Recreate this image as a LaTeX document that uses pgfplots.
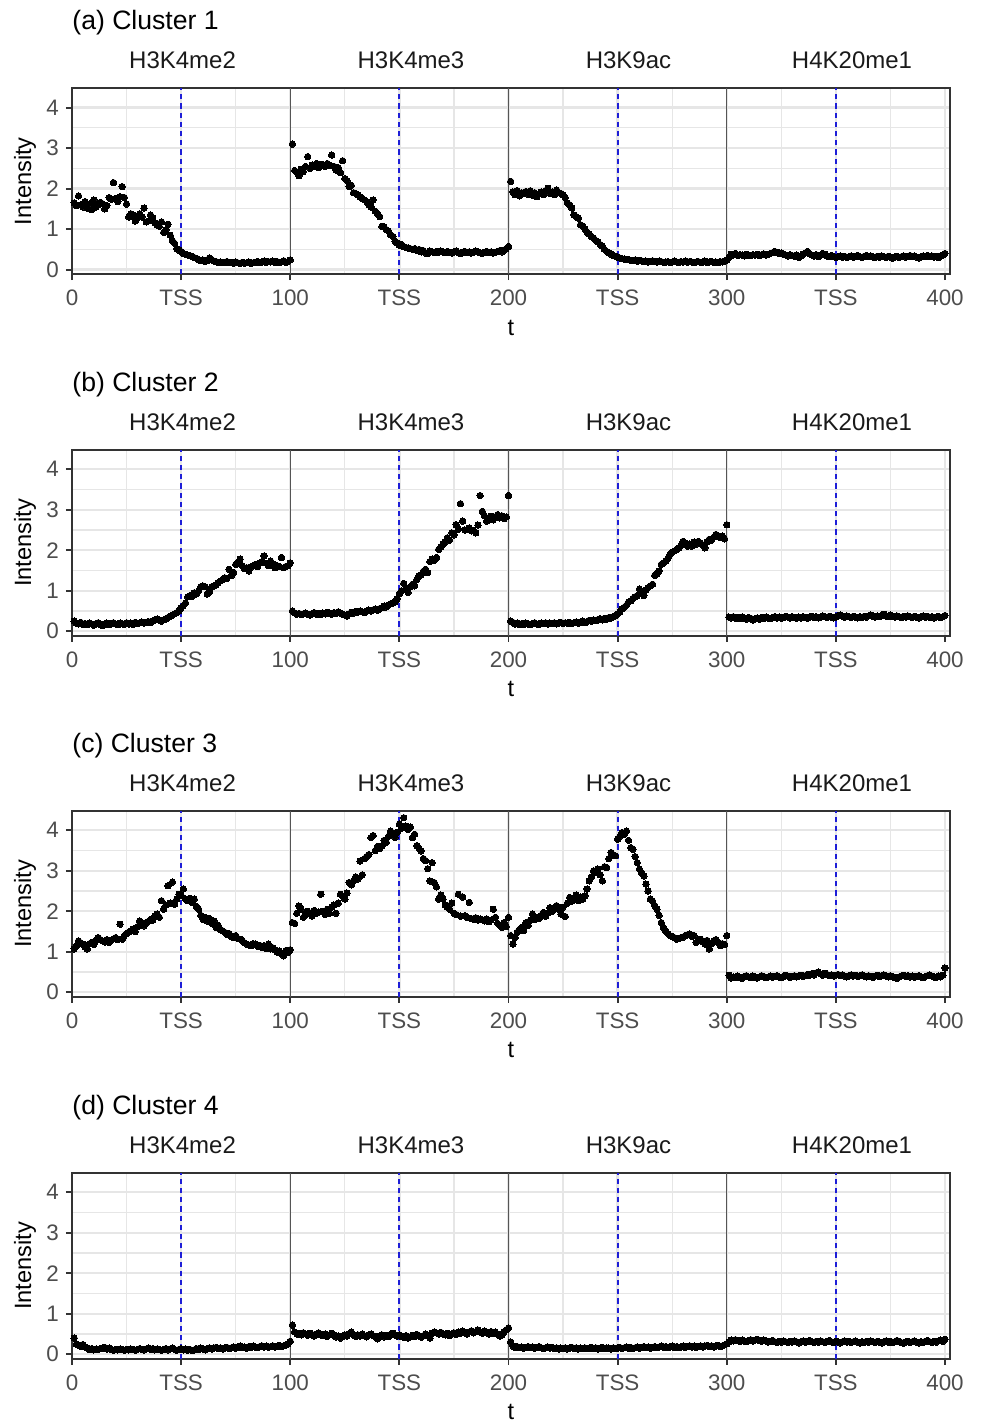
\documentclass[border=0pt]{standalone}
\usepackage{fontspec}
\setmainfont{Liberation Sans}
\usepackage{pgfplots}
\pgfplotsset{compat=1.18}
\definecolor{gridc}{HTML}{E6E6E6}
\definecolor{tickc}{HTML}{4D4D4D}
\definecolor{borderc}{HTML}{333333}
\definecolor{sepc}{HTML}{555555}
\definecolor{stripc}{HTML}{1A1A1A}
\definecolor{tssc}{RGB}{30,30,215}

\pgfplotsset{
 panel/.style={
  scale only axis, width=439pt, height=92.85pt,
  xmin=0, xmax=402.3, ymin=-0.11, ymax=4.475,
  clip=false,
  axis line style={borderc, line width=1pt},
  xtick={0,50,100,150,200,250,300,350,400},
  xticklabels={0,TSS,100,TSS,200,TSS,300,TSS,400},
  minor xtick={25,75,125,175,225,275,325,375},
  ytick={0,1,2,3,4}, yticklabels={0,1,2,3,4},
  minor ytick={0.5,1.5,2.5,3.5},
  grid=both,
  major grid style={gridc, line width=1.2pt},
  minor grid style={gridc, line width=0.6pt},
  tick align=outside, tick pos=left,
  major tick length=3pt, minor tick length=0pt,
  major tick style={borderc, line width=0.9pt},
  ticklabel style={font=\fontsize{11.2}{13}\selectfont, text=tickc},
  xticklabel style={yshift=-1.5pt},
  xlabel={t}, ylabel={Intensity},
  every axis x label/.style={at={(axis description cs:0.5,0)}, anchor=base, yshift=-30.5pt, font=\fontsize{11.8}{14}\selectfont},
  every axis y label/.style={at={(axis description cs:-0.0535,0.5)}, rotate=90, anchor=center, font=\fontsize{11.8}{14}\selectfont},
  every axis title shift=0pt,
  title style={at={(axis description cs:0,1)}, anchor=base west, inner sep=0pt, yshift=29.2pt, font=\fontsize{13.3}{16}\selectfont},
  extra description/.code={
   \foreach \p/\n in {0.1259/H3K4me2, 0.3861/H3K4me3, 0.6338/H3K9ac, 0.8884/H4K20me1}
     {\node[anchor=base, inner sep=0pt, font=\fontsize{12}{14}\selectfont, text=stripc, yshift=10pt] at (axis description cs:\p,1) {\n};}
  },
 },
 pts/.style={only marks, mark=*, mark size=1.6pt, color=black, mark options={draw=black, fill=black, line width=0pt}},
 sep/.style={color=sepc, line width=0.7pt, forget plot},
 tss/.style={color=tssc, solid, line width=1pt, dash pattern=on 2.6pt off 2pt, forget plot},
}
\newcommand{\facetlines}{%
 \addplot[sep] coordinates {(100,-0.11) (100,4.475)};
 \addplot[sep] coordinates {(200,-0.11) (200,4.475)};
 \addplot[sep] coordinates {(300,-0.11) (300,4.475)};
 \addplot[tss] coordinates {(50,-0.11) (50,4.475)};
 \addplot[tss] coordinates {(150,-0.11) (150,4.475)};
 \addplot[tss] coordinates {(250,-0.11) (250,4.475)};
 \addplot[tss] coordinates {(350,-0.11) (350,4.475)};
}

\begin{document}
\begin{tikzpicture}
\path[use as bounding box] (0,0) rectangle (490pt,-711.5pt);

% ---------------- (a) Cluster 1
\begin{axis}[panel, at={(36pt,-44.2pt)}, anchor=north west, title={(a) Cluster 1}]
\facetlines
\addplot[pts] coordinates {(1,1.65)(2,1.58)(3,1.82)(4,1.60)(5,1.55)(6,1.68)(7,1.52)(8,1.62)(9,1.48)(10,1.72)(11,1.55)(12,1.60)(13,1.66)(14,1.63)(15,1.50)(16,1.58)(17,1.78)(18,1.74)(19,2.15)(20,1.76)(21,1.68)(22,1.80)(23,2.05)(24,1.78)(25,1.62)(26,1.30)(27,1.38)(28,1.35)(29,1.20)(30,1.28)(31,1.38)(32,1.30)(33,1.52)(34,1.18)(35,1.20)(36,1.35)(37,1.27)(38,1.15)(39,1.10)(40,1.07)(41,1.18)(42,0.92)(43,0.98)(44,1.12)(45,0.85)(46,0.72)(47,0.65)(48,0.52)(49,0.48)(50,0.45)(51,0.40)(52,0.38)(53,0.36)(54,0.35)(55,0.33)(56,0.30)(57,0.28)(58,0.25)(59,0.22)(60,0.24)(61,0.20)(62,0.22)(63,0.29)(64,0.25)(65,0.21)(66,0.20)(67,0.18)(68,0.19)(69,0.17)(70,0.18)(71,0.20)(72,0.17)(73,0.18)(74,0.16)(75,0.19)(76,0.17)(77,0.15)(78,0.18)(79,0.16)(80,0.17)(81,0.19)(82,0.15)(83,0.17)(84,0.18)(85,0.20)(86,0.17)(87,0.19)(88,0.21)(89,0.18)(90,0.20)(91,0.19)(92,0.21)(93,0.18)(94,0.20)(95,0.17)(96,0.19)(97,0.22)(98,0.18)(99,0.20)(100,0.24)};
\addplot[pts] coordinates {(101,3.10)(102,2.45)(103,2.40)(104,2.32)(105,2.48)(106,2.42)(107,2.55)(108,2.79)(109,2.50)(110,2.58)(111,2.55)(112,2.62)(113,2.52)(114,2.60)(115,2.59)(116,2.55)(117,2.62)(118,2.58)(119,2.83)(120,2.55)(121,2.46)(122,2.52)(123,2.40)(124,2.69)(125,2.25)(126,2.20)(127,2.05)(128,2.08)(129,1.90)(130,1.88)(131,1.85)(132,1.80)(133,1.76)(134,1.72)(135,1.68)(136,1.60)(137,1.55)(138,1.72)(139,1.44)(140,1.38)(141,1.31)(142,1.07)(143,1.05)(144,0.99)(145,0.95)(146,0.86)(147,0.82)(148,0.70)(149,0.66)(150,0.60)(151,0.62)(152,0.57)(153,0.55)(154,0.53)(155,0.52)(156,0.50)(157,0.52)(158,0.48)(159,0.50)(160,0.44)(161,0.47)(162,0.41)(163,0.40)(164,0.46)(165,0.44)(166,0.42)(167,0.45)(168,0.43)(169,0.46)(170,0.44)(171,0.42)(172,0.45)(173,0.43)(174,0.41)(175,0.44)(176,0.46)(177,0.42)(178,0.40)(179,0.43)(180,0.45)(181,0.42)(182,0.44)(183,0.41)(184,0.43)(185,0.46)(186,0.44)(187,0.42)(188,0.40)(189,0.43)(190,0.45)(191,0.42)(192,0.44)(193,0.41)(194,0.43)(195,0.45)(196,0.47)(197,0.44)(198,0.48)(199,0.52)(200,0.57)};
\addplot[pts] coordinates {(201,2.18)(202,1.92)(203,1.85)(204,1.95)(205,1.82)(206,1.90)(207,1.88)(208,1.93)(209,1.86)(210,1.95)(211,1.84)(212,1.90)(213,1.80)(214,1.87)(215,1.92)(216,1.85)(217,1.95)(218,2.01)(219,1.88)(220,1.92)(221,1.85)(222,1.97)(223,1.90)(224,1.88)(225,1.85)(226,1.78)(227,1.65)(228,1.60)(229,1.52)(230,1.35)(231,1.31)(232,1.27)(233,1.11)(234,1.08)(235,1.00)(236,0.92)(237,0.88)(238,0.82)(239,0.78)(240,0.72)(241,0.68)(242,0.62)(243,0.58)(244,0.50)(245,0.45)(246,0.42)(247,0.38)(248,0.35)(249,0.33)(250,0.31)(251,0.29)(252,0.27)(253,0.26)(254,0.25)(255,0.25)(256,0.23)(257,0.22)(258,0.24)(259,0.21)(260,0.23)(261,0.22)(262,0.20)(263,0.21)(264,0.19)(265,0.20)(266,0.22)(267,0.20)(268,0.19)(269,0.21)(270,0.20)(271,0.18)(272,0.19)(273,0.20)(274,0.18)(275,0.19)(276,0.21)(277,0.19)(278,0.18)(279,0.20)(280,0.19)(281,0.21)(282,0.18)(283,0.20)(284,0.19)(285,0.17)(286,0.19)(287,0.20)(288,0.18)(289,0.19)(290,0.21)(291,0.18)(292,0.19)(293,0.20)(294,0.18)(295,0.19)(296,0.17)(297,0.20)(298,0.19)(299,0.21)(300,0.24)};
\addplot[pts] coordinates {(301,0.30)(302,0.38)(303,0.36)(304,0.40)(305,0.35)(306,0.37)(307,0.36)(308,0.34)(309,0.38)(310,0.36)(311,0.35)(312,0.37)(313,0.36)(314,0.38)(315,0.35)(316,0.37)(317,0.39)(318,0.36)(319,0.38)(320,0.40)(321,0.42)(322,0.45)(323,0.43)(324,0.40)(325,0.41)(326,0.38)(327,0.36)(328,0.34)(329,0.37)(330,0.35)(331,0.33)(332,0.36)(333,0.30)(334,0.34)(335,0.38)(336,0.41)(337,0.45)(338,0.39)(339,0.36)(340,0.34)(341,0.37)(342,0.32)(343,0.36)(344,0.40)(345,0.38)(346,0.34)(347,0.32)(348,0.35)(349,0.33)(350,0.30)(351,0.32)(352,0.34)(353,0.31)(354,0.33)(355,0.30)(356,0.32)(357,0.34)(358,0.31)(359,0.33)(360,0.35)(361,0.32)(362,0.30)(363,0.33)(364,0.35)(365,0.32)(366,0.34)(367,0.31)(368,0.30)(369,0.33)(370,0.31)(371,0.34)(372,0.32)(373,0.30)(374,0.33)(375,0.31)(376,0.28)(377,0.31)(378,0.33)(379,0.30)(380,0.32)(381,0.34)(382,0.31)(383,0.33)(384,0.35)(385,0.32)(386,0.34)(387,0.31)(388,0.29)(389,0.32)(390,0.34)(391,0.33)(392,0.35)(393,0.32)(394,0.34)(395,0.31)(396,0.33)(397,0.30)(398,0.34)(399,0.36)(400,0.40)};
\end{axis}

% ---------------- (b) Cluster 2
\begin{axis}[panel, at={(36pt,-225pt)}, anchor=north west, title={(b) Cluster 2}]
\facetlines
\addplot[pts] coordinates {(1,0.25)(2,0.20)(3,0.18)(4,0.22)(5,0.17)(6,0.19)(7,0.16)(8,0.20)(9,0.18)(10,0.15)(11,0.19)(12,0.21)(13,0.17)(14,0.14)(15,0.18)(16,0.20)(17,0.16)(18,0.19)(19,0.21)(20,0.18)(21,0.16)(22,0.20)(23,0.19)(24,0.17)(25,0.21)(26,0.18)(27,0.20)(28,0.17)(29,0.22)(30,0.19)(31,0.21)(32,0.23)(33,0.20)(34,0.22)(35,0.24)(36,0.21)(37,0.25)(38,0.28)(39,0.30)(40,0.27)(41,0.25)(42,0.28)(43,0.31)(44,0.34)(45,0.37)(46,0.40)(47,0.43)(48,0.46)(49,0.50)(50,0.58)(51,0.63)(52,0.70)(53,0.85)(54,0.88)(55,0.86)(56,0.95)(57,0.92)(58,1.00)(59,1.10)(60,1.12)(61,1.10)(62,0.92)(63,0.98)(64,1.10)(65,1.12)(66,1.15)(67,1.20)(68,1.24)(69,1.28)(70,1.32)(71,1.30)(72,1.53)(73,1.37)(74,1.45)(75,1.65)(76,1.70)(77,1.78)(78,1.62)(79,1.55)(80,1.57)(81,1.49)(82,1.58)(83,1.62)(84,1.65)(85,1.60)(86,1.68)(87,1.72)(88,1.86)(89,1.68)(90,1.62)(91,1.73)(92,1.66)(93,1.57)(94,1.62)(95,1.60)(96,1.82)(97,1.57)(98,1.60)(99,1.62)(100,1.69)};
\addplot[pts] coordinates {(101,0.50)(102,0.45)(103,0.42)(104,0.44)(105,0.41)(106,0.43)(107,0.45)(108,0.42)(109,0.40)(110,0.43)(111,0.46)(112,0.42)(113,0.44)(114,0.41)(115,0.45)(116,0.43)(117,0.47)(118,0.44)(119,0.42)(120,0.46)(121,0.44)(122,0.48)(123,0.45)(124,0.42)(125,0.40)(126,0.38)(127,0.43)(128,0.47)(129,0.45)(130,0.49)(131,0.47)(132,0.50)(133,0.48)(134,0.46)(135,0.50)(136,0.52)(137,0.50)(138,0.53)(139,0.55)(140,0.52)(141,0.56)(142,0.58)(143,0.62)(144,0.60)(145,0.65)(146,0.68)(147,0.70)(148,0.72)(149,0.80)(150,0.92)(151,1.00)(152,1.18)(153,1.05)(154,0.96)(155,1.10)(156,1.16)(157,1.12)(158,1.28)(159,1.37)(160,1.40)(161,1.48)(162,1.53)(163,1.45)(164,1.72)(165,1.78)(166,1.75)(167,1.82)(168,2.02)(169,2.08)(170,2.15)(171,2.20)(172,2.31)(173,2.25)(174,2.43)(175,2.38)(176,2.63)(177,2.52)(178,3.15)(179,2.72)(180,2.50)(181,2.51)(182,2.55)(183,2.48)(184,2.49)(185,2.43)(186,2.62)(187,3.35)(188,2.96)(189,2.85)(190,2.72)(191,2.80)(192,2.84)(193,2.75)(194,2.82)(195,2.88)(196,2.80)(197,2.85)(198,2.78)(199,2.82)(200,3.35)};
\addplot[pts] coordinates {(201,0.25)(202,0.22)(203,0.18)(204,0.20)(205,0.16)(206,0.19)(207,0.17)(208,0.20)(209,0.18)(210,0.16)(211,0.19)(212,0.21)(213,0.18)(214,0.17)(215,0.20)(216,0.19)(217,0.21)(218,0.18)(219,0.20)(220,0.19)(221,0.21)(222,0.18)(223,0.20)(224,0.22)(225,0.19)(226,0.21)(227,0.20)(228,0.22)(229,0.19)(230,0.21)(231,0.23)(232,0.20)(233,0.22)(234,0.25)(235,0.21)(236,0.24)(237,0.27)(238,0.25)(239,0.28)(240,0.26)(241,0.29)(242,0.31)(243,0.28)(244,0.32)(245,0.30)(246,0.34)(247,0.33)(248,0.36)(249,0.39)(250,0.43)(251,0.48)(252,0.55)(253,0.59)(254,0.64)(255,0.72)(256,0.75)(257,0.81)(258,0.85)(259,0.88)(260,1.04)(261,0.95)(262,0.88)(263,1.02)(264,1.08)(265,1.12)(266,1.16)(267,1.38)(268,1.41)(269,1.49)(270,1.65)(271,1.68)(272,1.73)(273,1.80)(274,1.90)(275,1.95)(276,1.98)(277,2.02)(278,2.05)(279,2.12)(280,2.22)(281,2.18)(282,2.10)(283,2.15)(284,2.10)(285,2.20)(286,2.15)(287,2.22)(288,2.18)(289,2.12)(290,2.06)(291,2.20)(292,2.27)(293,2.25)(294,2.32)(295,2.39)(296,2.36)(297,2.31)(298,2.35)(299,2.28)(300,2.63)};
\addplot[pts] coordinates {(301,0.35)(302,0.33)(303,0.36)(304,0.32)(305,0.34)(306,0.31)(307,0.35)(308,0.33)(309,0.30)(310,0.34)(311,0.32)(312,0.28)(313,0.31)(314,0.33)(315,0.30)(316,0.34)(317,0.32)(318,0.35)(319,0.33)(320,0.31)(321,0.34)(322,0.36)(323,0.33)(324,0.35)(325,0.32)(326,0.34)(327,0.37)(328,0.35)(329,0.33)(330,0.36)(331,0.34)(332,0.32)(333,0.35)(334,0.33)(335,0.36)(336,0.34)(337,0.32)(338,0.35)(339,0.37)(340,0.34)(341,0.36)(342,0.33)(343,0.35)(344,0.38)(345,0.36)(346,0.34)(347,0.37)(348,0.35)(349,0.33)(350,0.36)(351,0.38)(352,0.40)(353,0.37)(354,0.35)(355,0.38)(356,0.36)(357,0.34)(358,0.37)(359,0.35)(360,0.33)(361,0.36)(362,0.34)(363,0.37)(364,0.35)(365,0.38)(366,0.40)(367,0.37)(368,0.35)(369,0.38)(370,0.36)(371,0.39)(372,0.42)(373,0.38)(374,0.36)(375,0.40)(376,0.37)(377,0.35)(378,0.38)(379,0.36)(380,0.34)(381,0.37)(382,0.35)(383,0.38)(384,0.36)(385,0.34)(386,0.37)(387,0.35)(388,0.33)(389,0.36)(390,0.38)(391,0.35)(392,0.37)(393,0.34)(394,0.36)(395,0.33)(396,0.35)(397,0.37)(398,0.34)(399,0.36)(400,0.39)};
\end{axis}

% ---------------- (c) Cluster 3
\begin{axis}[panel, at={(36pt,-405.5pt)}, anchor=north west, title={(c) Cluster 3}]
\facetlines
\addplot[pts] coordinates {(1,1.07)(2,1.15)(3,1.27)(4,1.22)(5,1.19)(6,1.12)(7,1.07)(8,1.20)(9,1.23)(10,1.18)(11,1.28)(12,1.35)(13,1.30)(14,1.27)(15,1.24)(16,1.30)(17,1.23)(18,1.28)(19,1.32)(20,1.35)(21,1.30)(22,1.68)(23,1.31)(24,1.40)(25,1.45)(26,1.48)(27,1.52)(28,1.56)(29,1.50)(30,1.62)(31,1.76)(32,1.70)(33,1.64)(34,1.72)(35,1.75)(36,1.80)(37,1.78)(38,1.89)(39,1.93)(40,1.85)(41,2.26)(42,2.05)(43,2.15)(44,2.63)(45,2.20)(46,2.72)(47,2.17)(48,2.30)(49,2.42)(50,2.40)(51,2.55)(52,2.30)(53,2.26)(54,2.32)(55,2.22)(56,2.30)(57,2.12)(58,2.05)(59,1.90)(60,1.80)(61,1.85)(62,1.76)(63,1.82)(64,1.70)(65,1.76)(66,1.60)(67,1.65)(68,1.55)(69,1.52)(70,1.48)(71,1.43)(72,1.45)(73,1.38)(74,1.35)(75,1.40)(76,1.33)(77,1.31)(78,1.28)(79,1.22)(80,1.19)(81,1.17)(82,1.15)(83,1.20)(84,1.19)(85,1.14)(86,1.16)(87,1.11)(88,1.15)(89,1.08)(90,1.19)(91,1.07)(92,1.10)(93,1.05)(94,0.99)(95,1.02)(96,0.95)(97,0.90)(98,1.03)(99,0.98)(100,1.05)};
\addplot[pts] coordinates {(101,1.72)(102,1.70)(103,1.95)(104,2.13)(105,2.05)(106,1.85)(107,1.92)(108,2.00)(109,1.95)(110,1.88)(111,2.02)(112,1.95)(113,1.98)(114,2.42)(115,2.00)(116,1.92)(117,2.05)(118,1.95)(119,2.10)(120,2.15)(121,1.95)(122,2.20)(123,2.42)(124,2.38)(125,2.30)(126,2.45)(127,2.71)(128,2.65)(129,2.75)(130,2.85)(131,2.80)(132,3.24)(133,2.90)(134,3.30)(135,3.35)(136,3.40)(137,3.82)(138,3.87)(139,3.50)(140,3.60)(141,3.55)(142,3.61)(143,3.75)(144,3.70)(145,3.85)(146,3.98)(147,3.90)(148,3.82)(149,3.95)(150,4.15)(151,4.05)(152,4.31)(153,4.10)(154,4.02)(155,4.08)(156,3.82)(157,3.90)(158,3.62)(159,3.55)(160,3.49)(161,3.30)(162,3.25)(163,3.05)(164,2.75)(165,3.20)(166,2.71)(167,2.60)(168,2.30)(169,2.40)(170,2.30)(171,2.15)(172,2.10)(173,2.05)(174,2.20)(175,1.95)(176,1.92)(177,2.42)(178,1.88)(179,2.35)(180,1.89)(181,1.85)(182,2.22)(183,1.82)(184,1.80)(185,1.84)(186,1.78)(187,1.81)(188,1.79)(189,1.76)(190,1.81)(191,1.74)(192,1.78)(193,2.05)(194,1.85)(195,1.70)(196,1.65)(197,1.60)(198,1.72)(199,1.62)(200,1.85)};
\addplot[pts] coordinates {(201,1.40)(202,1.19)(203,1.35)(204,1.48)(205,1.55)(206,1.60)(207,1.52)(208,1.72)(209,1.65)(210,1.78)(211,1.93)(212,1.80)(213,1.85)(214,1.82)(215,1.90)(216,1.97)(217,1.88)(218,1.95)(219,2.09)(220,2.00)(221,2.05)(222,2.14)(223,2.05)(224,1.93)(225,2.10)(226,1.87)(227,2.20)(228,2.34)(229,2.25)(230,2.30)(231,2.40)(232,2.26)(233,2.35)(234,2.30)(235,2.38)(236,2.55)(237,2.75)(238,2.85)(239,3.00)(240,2.95)(241,3.04)(242,2.90)(243,2.75)(244,3.10)(245,3.08)(246,3.30)(247,3.45)(248,3.40)(249,3.37)(250,3.78)(251,3.85)(252,3.94)(253,3.90)(254,3.98)(255,3.75)(256,3.57)(257,3.53)(258,3.35)(259,3.20)(260,3.04)(261,2.95)(262,2.87)(263,2.67)(264,2.50)(265,2.30)(266,2.25)(267,2.14)(268,2.05)(269,1.90)(270,1.72)(271,1.60)(272,1.52)(273,1.45)(274,1.40)(275,1.38)(276,1.35)(277,1.31)(278,1.33)(279,1.35)(280,1.36)(281,1.40)(282,1.42)(283,1.44)(284,1.38)(285,1.40)(286,1.23)(287,1.30)(288,1.31)(289,1.25)(290,1.19)(291,1.28)(292,1.07)(293,1.20)(294,1.27)(295,1.30)(296,1.23)(297,1.15)(298,1.20)(299,1.18)(300,1.40)};
\addplot[pts] coordinates {(301,0.42)(302,0.35)(303,0.38)(304,0.36)(305,0.40)(306,0.37)(307,0.34)(308,0.39)(309,0.41)(310,0.38)(311,0.36)(312,0.40)(313,0.37)(314,0.35)(315,0.38)(316,0.41)(317,0.39)(318,0.36)(319,0.38)(320,0.40)(321,0.37)(322,0.39)(323,0.41)(324,0.38)(325,0.36)(326,0.39)(327,0.42)(328,0.40)(329,0.37)(330,0.39)(331,0.41)(332,0.38)(333,0.40)(334,0.42)(335,0.39)(336,0.41)(337,0.44)(338,0.42)(339,0.46)(340,0.43)(341,0.48)(342,0.50)(343,0.45)(344,0.42)(345,0.47)(346,0.44)(347,0.41)(348,0.43)(349,0.40)(350,0.42)(351,0.44)(352,0.41)(353,0.43)(354,0.40)(355,0.38)(356,0.41)(357,0.43)(358,0.40)(359,0.42)(360,0.39)(361,0.41)(362,0.43)(363,0.40)(364,0.38)(365,0.41)(366,0.39)(367,0.37)(368,0.40)(369,0.42)(370,0.39)(371,0.41)(372,0.43)(373,0.40)(374,0.38)(375,0.41)(376,0.39)(377,0.36)(378,0.34)(379,0.38)(380,0.40)(381,0.42)(382,0.39)(383,0.41)(384,0.38)(385,0.40)(386,0.37)(387,0.39)(388,0.41)(389,0.38)(390,0.36)(391,0.39)(392,0.41)(393,0.43)(394,0.40)(395,0.38)(396,0.37)(397,0.40)(398,0.38)(399,0.42)(400,0.60)};
\end{axis}

% ---------------- (d) Cluster 4
\begin{axis}[panel, at={(36pt,-586.5pt)}, anchor=north west, title={(d) Cluster 4}]
\facetlines
\addplot[pts] coordinates {(1,0.40)(2,0.25)(3,0.22)(4,0.20)(5,0.24)(6,0.18)(7,0.15)(8,0.12)(9,0.14)(10,0.11)(11,0.13)(12,0.12)(13,0.14)(14,0.15)(15,0.17)(16,0.13)(17,0.15)(18,0.12)(19,0.10)(20,0.12)(21,0.11)(22,0.13)(23,0.12)(24,0.10)(25,0.12)(26,0.11)(27,0.13)(28,0.12)(29,0.10)(30,0.12)(31,0.14)(32,0.12)(33,0.11)(34,0.13)(35,0.15)(36,0.12)(37,0.14)(38,0.11)(39,0.13)(40,0.12)(41,0.10)(42,0.12)(43,0.14)(44,0.11)(45,0.13)(46,0.15)(47,0.12)(48,0.10)(49,0.12)(50,0.14)(51,0.11)(52,0.13)(53,0.10)(54,0.12)(55,0.09)(56,0.11)(57,0.14)(58,0.12)(59,0.15)(60,0.13)(61,0.11)(62,0.14)(63,0.16)(64,0.13)(65,0.15)(66,0.17)(67,0.14)(68,0.16)(69,0.13)(70,0.15)(71,0.17)(72,0.14)(73,0.16)(74,0.18)(75,0.15)(76,0.17)(77,0.20)(78,0.16)(79,0.18)(80,0.15)(81,0.19)(82,0.17)(83,0.20)(84,0.18)(85,0.16)(86,0.19)(87,0.21)(88,0.18)(89,0.20)(90,0.17)(91,0.19)(92,0.21)(93,0.18)(94,0.20)(95,0.22)(96,0.19)(97,0.21)(98,0.23)(99,0.25)(100,0.32)};
\addplot[pts] coordinates {(101,0.72)(102,0.55)(103,0.50)(104,0.52)(105,0.48)(106,0.53)(107,0.50)(108,0.47)(109,0.52)(110,0.49)(111,0.45)(112,0.50)(113,0.53)(114,0.48)(115,0.46)(116,0.50)(117,0.44)(118,0.48)(119,0.52)(120,0.47)(121,0.43)(122,0.45)(123,0.40)(124,0.44)(125,0.48)(126,0.45)(127,0.50)(128,0.55)(129,0.47)(130,0.44)(131,0.48)(132,0.45)(133,0.50)(134,0.46)(135,0.43)(136,0.48)(137,0.50)(138,0.46)(139,0.44)(140,0.38)(141,0.45)(142,0.48)(143,0.43)(144,0.47)(145,0.44)(146,0.49)(147,0.52)(148,0.48)(149,0.45)(150,0.48)(151,0.44)(152,0.42)(153,0.46)(154,0.40)(155,0.43)(156,0.47)(157,0.44)(158,0.49)(159,0.46)(160,0.42)(161,0.46)(162,0.50)(163,0.47)(164,0.40)(165,0.52)(166,0.55)(167,0.53)(168,0.50)(169,0.54)(170,0.51)(171,0.48)(172,0.52)(173,0.46)(174,0.50)(175,0.53)(176,0.49)(177,0.55)(178,0.52)(179,0.57)(180,0.54)(181,0.50)(182,0.55)(183,0.58)(184,0.53)(185,0.56)(186,0.60)(187,0.55)(188,0.52)(189,0.57)(190,0.54)(191,0.50)(192,0.56)(193,0.52)(194,0.55)(195,0.50)(196,0.45)(197,0.48)(198,0.55)(199,0.60)(200,0.65)};
\addplot[pts] coordinates {(201,0.30)(202,0.20)(203,0.17)(204,0.19)(205,0.16)(206,0.18)(207,0.15)(208,0.17)(209,0.19)(210,0.16)(211,0.18)(212,0.15)(213,0.17)(214,0.19)(215,0.16)(216,0.14)(217,0.16)(218,0.18)(219,0.15)(220,0.17)(221,0.14)(222,0.16)(223,0.13)(224,0.15)(225,0.14)(226,0.16)(227,0.13)(228,0.15)(229,0.17)(230,0.14)(231,0.16)(232,0.13)(233,0.15)(234,0.14)(235,0.16)(236,0.14)(237,0.15)(238,0.17)(239,0.14)(240,0.16)(241,0.13)(242,0.15)(243,0.17)(244,0.14)(245,0.16)(246,0.15)(247,0.13)(248,0.16)(249,0.14)(250,0.15)(251,0.17)(252,0.14)(253,0.16)(254,0.18)(255,0.15)(256,0.17)(257,0.14)(258,0.16)(259,0.18)(260,0.15)(261,0.17)(262,0.19)(263,0.16)(264,0.18)(265,0.15)(266,0.17)(267,0.19)(268,0.16)(269,0.18)(270,0.20)(271,0.17)(272,0.19)(273,0.16)(274,0.18)(275,0.20)(276,0.17)(277,0.19)(278,0.16)(279,0.18)(280,0.20)(281,0.17)(282,0.19)(283,0.21)(284,0.18)(285,0.20)(286,0.17)(287,0.19)(288,0.21)(289,0.18)(290,0.20)(291,0.22)(292,0.19)(293,0.21)(294,0.18)(295,0.20)(296,0.22)(297,0.19)(298,0.21)(299,0.23)(300,0.26)};
\addplot[pts] coordinates {(301,0.30)(302,0.35)(303,0.33)(304,0.36)(305,0.34)(306,0.32)(307,0.35)(308,0.33)(309,0.31)(310,0.34)(311,0.36)(312,0.33)(313,0.35)(314,0.37)(315,0.34)(316,0.32)(317,0.35)(318,0.33)(319,0.30)(320,0.32)(321,0.34)(322,0.31)(323,0.29)(324,0.32)(325,0.30)(326,0.33)(327,0.31)(328,0.29)(329,0.32)(330,0.30)(331,0.33)(332,0.31)(333,0.28)(334,0.31)(335,0.33)(336,0.30)(337,0.32)(338,0.34)(339,0.31)(340,0.29)(341,0.32)(342,0.30)(343,0.33)(344,0.31)(345,0.29)(346,0.32)(347,0.34)(348,0.31)(349,0.29)(350,0.32)(351,0.30)(352,0.28)(353,0.31)(354,0.33)(355,0.30)(356,0.32)(357,0.29)(358,0.31)(359,0.33)(360,0.30)(361,0.28)(362,0.31)(363,0.29)(364,0.32)(365,0.30)(366,0.33)(367,0.31)(368,0.29)(369,0.32)(370,0.30)(371,0.28)(372,0.31)(373,0.33)(374,0.30)(375,0.32)(376,0.29)(377,0.31)(378,0.34)(379,0.32)(380,0.29)(381,0.27)(382,0.30)(383,0.32)(384,0.29)(385,0.31)(386,0.33)(387,0.30)(388,0.28)(389,0.31)(390,0.29)(391,0.32)(392,0.34)(393,0.31)(394,0.29)(395,0.32)(396,0.30)(397,0.33)(398,0.35)(399,0.32)(400,0.37)};
\end{axis}
\end{tikzpicture}
\end{document}
